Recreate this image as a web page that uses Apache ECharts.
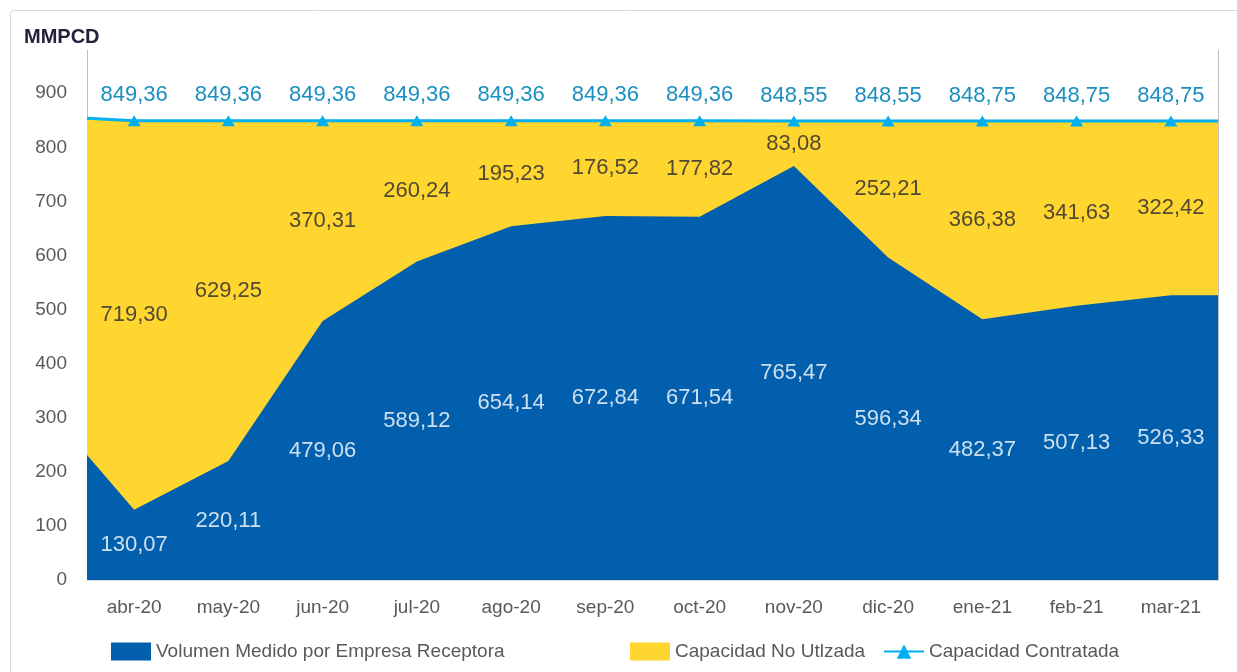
<!DOCTYPE html>
<html>
<head>
<meta charset="utf-8">
<script src="https://cdn.jsdelivr.net/npm/echarts@6/dist/echarts.min.js"></script>
<style>
  html, body { margin: 0; padding: 0; background: #fff; }
  #main { width: 1237px; height: 672px; }
</style>
</head>
<body>
<div id="main"></div>
<script>
var months = ['abr-20', 'may-20', 'jun-20', 'jul-20', 'ago-20', 'sep-20', 'oct-20', 'nov-20', 'dic-20', 'ene-21', 'feb-21', 'mar-21'];
var volumen = [130.07, 220.11, 479.06, 589.12, 654.14, 672.84, 671.54, 765.47, 596.34, 482.37, 507.13, 526.33];
var noUtilizada = [719.30, 629.25, 370.31, 260.24, 195.23, 176.52, 177.82, 83.08, 252.21, 366.38, 341.63, 322.42];
var contratada = [849.36, 849.36, 849.36, 849.36, 849.36, 849.36, 849.36, 848.55, 848.55, 848.75, 848.75, 848.75];
// the areas run to the plot edges (values read at the left edge)
var edgeLeft = { volumen: 231, noUtilizada: 623, contratada: 854 };

function fmt(v) { return v.toFixed(2).replace('.', ','); }

// [x, y] pairs on a value axis so the areas can reach the plot edges
function withEdges(arr, left) {
  var out = [[-0.5, left]];
  arr.forEach(function (v, i) { out.push([i, v]); });
  out.push([arr.length - 0.5, arr[arr.length - 1]]);
  return out;
}

// line stacking would run on x here, so the yellow band top is summed by hand
var topUnused = noUtilizada.map(function (v, i) { return volumen[i] + v; });
var volData = withEdges(volumen, edgeLeft.volumen);
var noUtilData = withEdges(topUnused, edgeLeft.volumen + edgeLeft.noUtilizada);
var contrData = withEdges(contratada, edgeLeft.contratada).map(function (p, i, a) {
  var edge = (i === 0 || i === a.length - 1);
  return edge ? { value: p, symbol: 'none', label: { show: false } } : { value: p };
});

// label anchors in the middle of each band
var volLabels = volumen.map(function (v, i) { return [i, v / 2, v]; });
var noUtilLabels = noUtilizada.map(function (v, i) { return [i, volumen[i] + v / 2, v]; });

var font = 'Liberation Sans';
var legendText = { fontFamily: font, fontSize: 19, color: '#595959' };
function legendAt(left, item) {
  return { top: 637, left: left, itemWidth: 40, itemHeight: 18, textStyle: legendText, data: [item] };
}

var myChart = echarts.init(document.getElementById('main'));
var option = {
  textStyle: { fontFamily: font },
  graphic: [{
    type: 'rect', left: 8, top: 8, silent: true,
    shape: { width: 1250, height: 680, r: 3 },
    style: { fill: 'none', stroke: '#d9d9d9', lineWidth: 1 }
  }],
  title: {
    text: 'MMPCD', left: 19, top: 22,
    textStyle: { fontFamily: font, fontSize: 20, fontWeight: 'bold', color: '#22223f' }
  },
  legend: [
    legendAt(106, { name: 'Volumen Medido por Empresa Receptora', icon: 'rect' }),
    legendAt(625, { name: 'Capacidad No Utlzada', icon: 'rect' }),
    legendAt(878, { name: 'Capacidad Contratada' })
  ],
  grid: { left: 87, right: 19, top: 50, bottom: 92 },
  xAxis: [{
    type: 'value', min: -0.5, max: months.length - 0.5, show: false, position: 'top'
  }, {
    type: 'category', data: months, position: 'bottom', boundaryGap: true,
    axisLine: { show: true, onZero: false, lineStyle: { color: '#d9d9d9' } },
    axisTick: { show: false },
    axisLabel: { color: '#595959', fontSize: 19, margin: 18 }
  }],
  yAxis: [{
    type: 'value', min: 0, max: 980, interval: 100,
    axisLine: { show: true, onZero: false, lineStyle: { color: '#bfbfbf' } },
    axisTick: { show: false },
    splitLine: { show: false },
    axisLabel: { color: '#595959', fontSize: 19, margin: 20, showMaxLabel: false }
  }, {
    type: 'value', min: 0, max: 980, position: 'right',
    axisLine: { show: true, onZero: false, lineStyle: { color: '#bfbfbf' } },
    axisTick: { show: false }, axisLabel: { show: false }, splitLine: { show: false }
  }],
  series: [{
    name: 'Capacidad No Utlzada',
    type: 'line', xAxisIndex: 0, data: noUtilData,
    symbol: 'none', lineStyle: { width: 0 },
    itemStyle: { color: '#ffd530' },
    areaStyle: { color: '#ffd530', opacity: 1 }
  }, {
    name: 'Volumen Medido por Empresa Receptora',
    type: 'line', xAxisIndex: 0, data: volData,
    symbol: 'none', lineStyle: { width: 0 },
    itemStyle: { color: '#015fad' },
    areaStyle: { color: '#015fad', opacity: 1 }
  }, {
    name: 'Capacidad Contratada',
    type: 'line', xAxisIndex: 0, data: contrData,
    symbol: 'triangle', symbolSize: [13, 11],
    lineStyle: { width: 3, color: '#00b0f0' },
    itemStyle: { color: '#00b0f0' },
    label: {
      show: true, position: 'top', distance: 9, fontSize: 22, color: '#1a8fc0',
      formatter: function (p) { return fmt(p.value[1]); }
    }
  }, {
    type: 'scatter', xAxisIndex: 0, data: volLabels, silent: true, z: 5,
    symbolSize: 1, itemStyle: { color: 'rgba(0,0,0,0)' },
    label: {
      show: true, position: 'inside', fontSize: 22, color: '#ffffff',
      formatter: function (p) { return fmt(p.value[2]); }
    }
  }, {
    type: 'scatter', xAxisIndex: 0, data: noUtilLabels, silent: true, z: 5,
    symbolSize: 1, itemStyle: { color: 'rgba(0,0,0,0)' },
    label: {
      show: true, position: 'inside', fontSize: 22, color: '#262633',
      formatter: function (p) { return fmt(p.value[2]); }
    }
  }]
};
myChart.setOption(option);
</script>
</body>
</html>
